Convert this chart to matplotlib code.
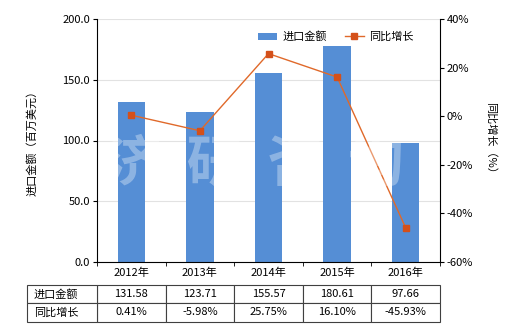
import matplotlib
matplotlib.use("Agg")
import matplotlib.pyplot as plt
import numpy as np

plt.rcParams['font.family'] = ['Noto Sans CJK SC', 'DejaVu Sans']

years = ['2012年', '2013年', '2014年', '2015年', '2016年']
amounts = [131.58, 123.71, 155.57, 180.61, 97.66]
growth = [0.41, -5.98, 25.75, 16.10, -45.93]
row_labels = ['进口金额', '同比增长']
amount_text = ['131.58', '123.71', '155.57', '180.61', '97.66']
growth_text = ['0.41%', '-5.98%', '25.75%', '16.10%', '-45.93%']

bar_color = '#558ED5'
line_color = '#E0692A'
marker_color = '#D4501A'
fs = 8

fig = plt.figure(figsize=(5.2, 3.3), dpi=100)
ax = fig.add_axes([97/520, 1-262/330, 343/520, 243/330])
x = np.arange(len(years))
bars = ax.bar(x, amounts, width=0.4, color=bar_color, zorder=2, label='进口金额')
ax.set_xlim(-0.5, len(years)-0.5)
ax.set_ylim(0, 200)
ax.set_yticks([0, 50, 100, 150, 200])
ax.set_yticklabels(['0.0', '50.0', '100.0', '150.0', '200.0'], fontsize=fs)
ax.grid(axis='y', color='#E2E2E2', linewidth=0.8, zorder=0)
ax.set_axisbelow(True)
ax.set_xticks(x)
ax.set_xticklabels(years, fontsize=fs)
ax.tick_params(axis='x', length=0, pad=4)
ax.set_xticks(np.arange(-0.5, len(years), 1), minor=True)
ax.tick_params(axis='x', which='minor', length=3, direction='out')
ax.tick_params(axis='y', length=3, direction='out', pad=2)
for s in ['top', 'right']:
    ax.spines[s].set_visible(False)
ax.spines['left'].set_color('black')
ax.spines['bottom'].set_color('black')
ax.set_ylabel('进口金额（百万美元）', fontsize=fs, labelpad=18)

ax2 = ax.twinx()
ln, = ax2.plot(x, growth, color=line_color, linewidth=1, marker='s', markersize=4,
               markerfacecolor=marker_color, markeredgecolor=marker_color, zorder=3, label='同比增长')
ax2.set_ylim(-60, 40)
ax2.set_yticks([-60, -40, -20, 0, 20, 40])
ax2.set_yticklabels(['-60%', '-40%', '-20%', '0%', '20%', '40%'], fontsize=fs)
ax2.tick_params(axis='y', length=3, direction='out', pad=2)
for s in ['top', 'left', 'bottom']:
    ax2.spines[s].set_visible(False)
ax2.spines['right'].set_color('black')
ax2.set_ylabel('同比增长（%）', fontsize=fs, rotation=-90, labelpad=16)

# watermark
fig.text(0.49, 0.5, '济  研  咨  询', fontsize=40, color='white', alpha=0.33,
         ha='center', va='center', fontweight='bold', zorder=10)

leg = ax2.legend([bars, ln], ['进口金额', '同比增长'], loc='upper right',
                 bbox_to_anchor=(0.95, 0.985), ncol=2, fontsize=fs, frameon=True,
                 fancybox=False, edgecolor='none', facecolor='white', framealpha=1,
                 handlelength=1.7, handletextpad=0.5, columnspacing=1.6, borderpad=0.3)

# data table
tab = ax.table(cellText=[amount_text, growth_text], rowLabels=None,
               cellLoc='center',
               bbox=[0, -0.245, 1.0, 0.15])
tab.auto_set_font_size(False)
tab.set_fontsize(fs)
lab = ax.table(cellText=[[row_labels[0]], [row_labels[1]]], cellLoc='left',
               bbox=[-70/343, -0.245, 70/343, 0.15])
lab.auto_set_font_size(False)
lab.set_fontsize(fs)
for t in (tab, lab):
    for c in t.get_celld().values():
        c.set_edgecolor('#404040')
        c.set_linewidth(0.8)

fig.savefig('out.png', dpi=100)
